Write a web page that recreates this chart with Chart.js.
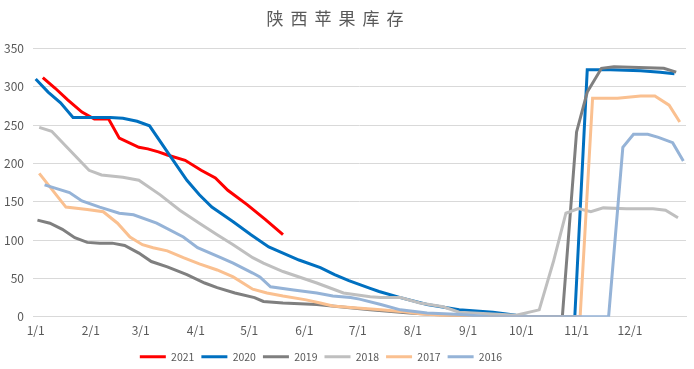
<!DOCTYPE html>
<html>
<head>
<meta charset="utf-8">
<script src="https://cdn.jsdelivr.net/npm/chart.js@4.4.1/dist/chart.umd.min.js"></script>
<style>
  html, body { margin: 0; padding: 0; background: #fff; }
  #wrap { width: 694px; height: 369px; }
</style>
</head>
<body>
<div id="wrap"><canvas id="stockChart" width="694" height="369"></canvas></div>
<script>
  // day of year (0 = 1/1) and stock
  const monthStarts = [0, 31, 59, 90, 120, 151, 181, 212, 243, 273, 304, 334];
  const monthLabels = ['1/1', '2/1', '3/1', '4/1', '5/1', '6/1', '7/1', '8/1', '9/1', '10/1', '11/1', '12/1'];
  const yTicks = [0, 50, 100, 150, 200, 250, 300, 350];

  const seriesNames = ['2021', '2020', '2019', '2018', '2017', '2016'];

  const days2021 = [4, 11, 18, 26, 33, 41, 47, 58, 63, 69, 74, 84, 93, 101, 108, 119, 129, 139];
  const stock2021 = [312, 298, 283, 267, 258, 258, 233, 221, 219, 215, 211, 204, 191, 181, 165, 146, 127, 107];

  const days2020 = [0, 7, 14, 21, 28, 35, 42, 49, 57, 64, 74, 85, 92, 99, 111, 121, 131, 139, 148, 160, 168, 176, 188, 193, 205, 220, 238, 257, 270, 278, 290, 303, 310, 323, 340, 351, 359];
  const stock2020 = [310, 293, 279, 260, 260, 260, 260, 259, 255, 249, 215, 178, 159, 143, 124, 107, 91, 83, 74, 64, 55, 47, 37, 33, 25, 16, 9, 6, 2, 0, 0, 0, 322, 322, 321, 319, 317];

  const days2019 = [1, 8, 15, 22, 29, 36, 43, 50, 58, 65, 74, 85, 95, 102, 112, 123, 128, 139, 158, 188, 210, 238, 250, 296, 304, 310, 318, 325, 353, 360];
  const stock2019 = [126, 122, 114, 103, 97, 96, 96, 93, 83, 72, 65, 55, 44, 38, 31, 25, 20, 18, 16, 9, 5, 1, 0, 0, 241, 293, 324, 326, 324, 319];

  const days2018 = [2, 9, 18, 30, 37, 49, 58, 70, 81, 92, 102, 111, 122, 128, 139, 158, 173, 188, 194, 205, 216, 229, 238, 254, 270, 283, 291, 298, 305, 312, 319, 332, 347, 354, 361];
  const stock2018 = [247, 242, 220, 191, 185, 182, 178, 159, 139, 122, 107, 94, 77, 70, 59, 44, 31, 26, 25, 25, 18, 13, 6, 4, 2, 9, 72, 135, 141, 137, 142, 141, 141, 139, 129];

  const days2017 = [2, 17, 29, 38, 46, 53, 60, 66, 74, 83, 92, 102, 111, 122, 130, 139, 152, 160, 167, 177, 194, 205, 216, 233, 244, 306, 313, 327, 340, 348, 356, 362];
  const stock2017 = [187, 143, 140, 137, 122, 104, 94, 90, 86, 77, 69, 61, 52, 36, 31, 27, 22, 18, 14, 12, 9, 7, 4, 1, 0, 0, 285, 285, 288, 288, 276, 254];

  const days2016 = [5, 19, 26, 36, 47, 55, 68, 83, 91, 104, 111, 122, 126, 132, 145, 158, 167, 177, 182, 194, 205, 220, 239, 255, 322, 330, 336, 344, 350, 358, 364];
  const stock2016 = [172, 162, 151, 143, 135, 133, 122, 104, 90, 77, 70, 57, 52, 39, 35, 31, 27, 25, 23, 16, 9, 5, 3, 0, 0, 221, 238, 238, 234, 227, 203];

  const allDays = [days2021, days2020, days2019, days2018, days2017, days2016];
  const allStock = [stock2021, stock2020, stock2019, stock2018, stock2017, stock2016];
  const colors = ['#FF0000', '#0070C0', '#7F7F7F', '#BFBFBF', '#FAC090', '#95B3D7'];

  const toPoints = (days, vals) => days.map((d, i) => ({ x: d, y: vals[i] }));

  const datasets = seriesNames.map((name, i) => ({
    label: name,
    data: toPoints(allDays[i], allStock[i]),
    borderColor: colors[i],
    backgroundColor: colors[i],
    borderWidth: 3,
    pointRadius: 0,
    tension: 0,
    // later series sit on top, like the original
    order: seriesNames.length - i
  }));

  // the legend in the original sits a bit left of centre
  const legendShift = {
    id: 'legendShift',
    afterUpdate(chart) {
      chart.legend.left -= 22;
      chart.legend.right -= 22;
    }
  };

  // wide letter spacing on the title
  const spacedTitle = {
    id: 'spacedTitle',
    afterInit(chart) {
      const tb = chart.titleBlock;
      const draw = tb.draw.bind(tb);
      tb.draw = function () {
        chart.ctx.save();
        chart.ctx.letterSpacing = '7px';
        chart.ctx.translate(-4.5, 0);
        draw();
        chart.ctx.restore();
      };
    }
  };

  const font = 'Noto Sans CJK SC';
  const ctx = document.getElementById('stockChart').getContext('2d');
  new Chart(ctx, {
    type: 'line',
    data: { datasets: datasets },
    plugins: [legendShift, spacedTitle],
    options: {
      responsive: false,
      animation: false,
      layout: { padding: { left: 0, right: 8, top: 0, bottom: -3 } },
      plugins: {
        title: {
          display: true,
          text: '陕西苹果库存',
          color: '#595959',
          font: { family: font, size: 17, weight: 'normal' },
          padding: { top: 8, bottom: 20 }
        },
        legend: {
          position: 'bottom',
          labels: {
            usePointStyle: true,
            pointStyle: 'line',
            pointStyleWidth: 26,
            boxHeight: 10.5,
            padding: 7,
            color: '#595959',
            font: { family: font, size: 10.5 },
            sort: (a, b) => a.datasetIndex - b.datasetIndex
          }
        },
        tooltip: { enabled: false }
      },
      scales: {
        x: {
          type: 'linear',
          min: -1.5,
          max: 365.5,
          afterBuildTicks: (scale) => {
            scale.ticks = monthStarts.map(v => ({ value: v }));
          },
          afterFit: (scale) => { scale.height = 27.75; },
          ticks: {
            autoSkip: false,
            maxRotation: 0,
            padding: -2,
            color: '#595959',
            font: { family: font, size: 12 },
            callback: (v) => monthLabels[monthStarts.indexOf(v)]
          },
          grid: { display: false },
          border: { display: true, color: '#D9D9D9' }
        },
        y: {
          min: 0,
          max: 350,
          afterBuildTicks: (scale) => {
            scale.ticks = yTicks.map(v => ({ value: v }));
          },
          afterFit: (scale) => { scale.width = 33; },
          ticks: {
            padding: 9,
            color: '#595959',
            font: { family: font, size: 12 }
          },
          grid: { color: '#D9D9D9', drawTicks: false },
          border: { display: false }
        }
      }
    }
  });
</script>
</body>
</html>
